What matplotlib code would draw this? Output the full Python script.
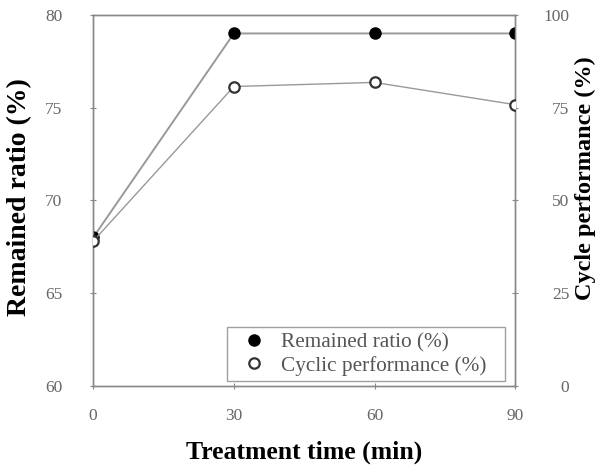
import matplotlib
matplotlib.use("Agg")
import matplotlib.pyplot as plt
from matplotlib.lines import Line2D

time = [0, 30, 60, 90]
remained_ratio = [68.0, 79.0, 79.0, 79.0]
cyclic_performance = [39.0, 80.7, 81.8, 75.8]
left_ticks = [60, 65, 70, 75, 80]
right_ticks = [0, 25, 50, 75, 100]

plt.rcParams['font.family'] = ['Liberation Serif', 'DejaVu Serif']

fig = plt.figure(figsize=(6.09, 4.66), dpi=100)
ax = fig.add_axes([0.153, 0.172, 0.693, 0.796])
ax2 = ax.twinx()

axis_gray = '#888888'
line_gray = '#999999'

ax.plot(time, remained_ratio, color=line_gray, lw=1.4, marker='o', ms=8,
        markerfacecolor='black', markeredgecolor='black', zorder=3)
ax2.plot(time, cyclic_performance, color=line_gray, lw=1.0, marker='o', ms=7.5,
         markerfacecolor='white', markeredgecolor='#333333', markeredgewidth=1.6, zorder=3)

ax.set_xlim(0, 90)
ax.set_ylim(60, 80)
ax2.set_ylim(0, 100)
ax.set_xticks(time)
ax.set_yticks(left_ticks)
ax2.set_yticks(right_ticks)

for a in (ax, ax2):
    for s in a.spines.values():
        s.set_color(axis_gray)
        s.set_linewidth(1.0)
    a.tick_params(colors=axis_gray, labelcolor='#666666', labelsize=12.5, direction='inout', length=4)
ax.tick_params(axis='x', pad=14)
ax.tick_params(axis='y', pad=20)
ax2.tick_params(axis='y', pad=37)
for lbl in ax2.get_yticklabels():
    lbl.set_horizontalalignment('right')

ax.set_xlabel('Treatment time (min)', fontsize=18.5, fontweight='bold')
ax.xaxis.set_label_coords(0.499, -0.148)
ax.set_ylabel('Remained ratio (%)', fontsize=20, fontweight='bold')
ax.yaxis.set_label_coords(-0.1445, 0.509)
ax2.set_ylabel('Cycle performance (%)', fontsize=17.5, fontweight='bold')
ax2.yaxis.set_label_coords(1.142, 0.56)

handles = [
    Line2D([], [], marker='o', ls='none', ms=8, markerfacecolor='black', markeredgecolor='black'),
    Line2D([], [], marker='o', ls='none', ms=7.5, markerfacecolor='white', markeredgecolor='#333333', markeredgewidth=1.6),
]
leg = ax.legend(handles, ['Remained ratio (%)', 'Cyclic performance (%)'], loc='lower left',
                bbox_to_anchor=(0.3175, 0.0135, 0.659, 0.2), mode='expand',
                fontsize=15.3, frameon=True, fancybox=False,
                edgecolor=axis_gray, handletextpad=0.3, borderpad=0.25, labelspacing=0.15,
                borderaxespad=0)
for t in leg.get_texts():
    t.set_color('#555555')
leg.get_frame().set_linewidth(1.0)

fig.savefig('out.png', dpi=100)
